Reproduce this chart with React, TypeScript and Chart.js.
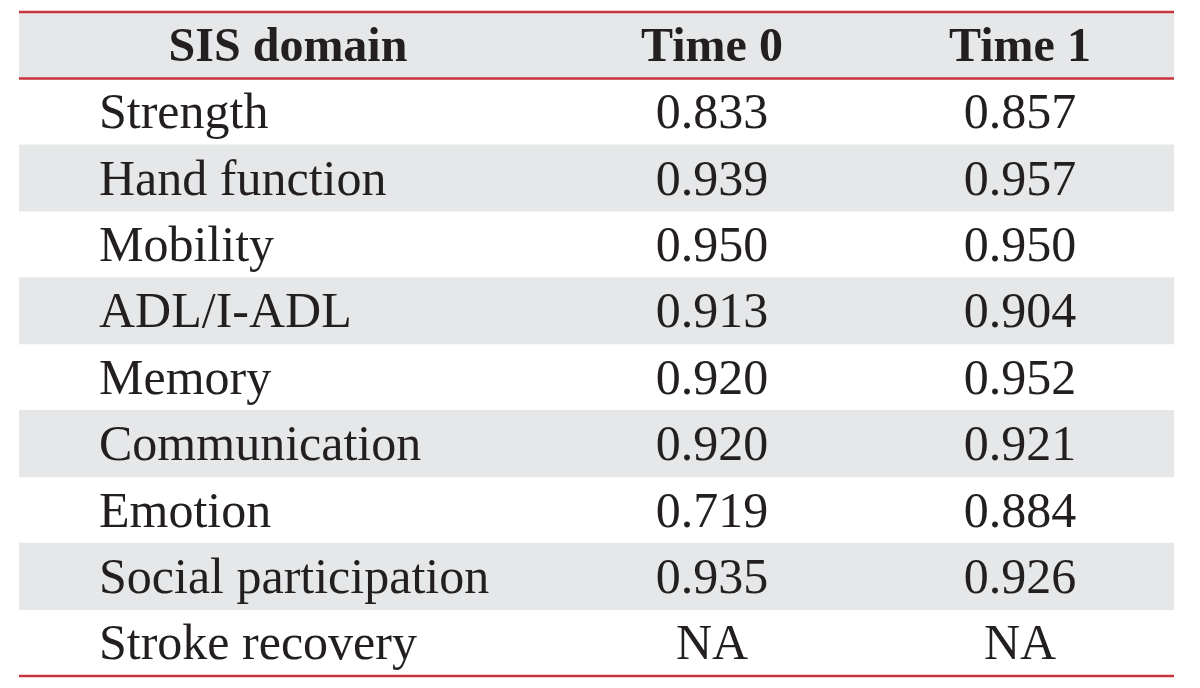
import React, { useEffect, useRef } from "react";
import { Chart, registerables } from "chart.js";

Chart.register(...registerables);

const headers = ["SIS domain", "Time 0", "Time 1"];
const domains = [
  "Strength",
  "Hand function",
  "Mobility",
  "ADL/I-ADL",
  "Memory",
  "Communication",
  "Emotion",
  "Social participation",
  "Stroke recovery",
];
const time0: (number | null)[] = [0.833, 0.939, 0.95, 0.913, 0.92, 0.92, 0.719, 0.935, null];
const time1: (number | null)[] = [0.857, 0.957, 0.95, 0.904, 0.952, 0.921, 0.884, 0.926, null];

const TABLE_LEFT = 19;
const TABLE_RIGHT = 1174;
const LABEL_X = 99;
const HEAD_LABEL_X = 288;
const COL_X = [712, 1020];
const RED = "#c8343c";
const GRAY = "#e6e7e8";
const INK = "#231f20";
const FONT = '"Liberation Serif", "Times New Roman", serif';
const HEAD_SIZE = 48;
const BODY_SIZE = 50;
const CAP = 0.331;

const fmt = (v: number | null) => (v === null ? "NA" : v.toFixed(3));

const tablePlugin = {
  id: "tableText",
  afterDatasetsDraw(chart: any) {
    const { ctx, scales, chartArea } = chart;
    const x = scales.x;
    const y = scales.y;
    const rowLabels: string[] = y.getLabels();
    const band = (chartArea.bottom - chartArea.top) / rowLabels.length;
    ctx.save();
    ctx.fillStyle = INK;
    ctx.textBaseline = "alphabetic";
    // header
    const hy = y.getPixelForValue(0) + HEAD_SIZE * CAP;
    ctx.font = `bold ${HEAD_SIZE}px ${FONT}`;
    ctx.textAlign = "center";
    ctx.fillText(headers[0], x.getPixelForValue(HEAD_LABEL_X), hy);
    ctx.fillText(headers[1], x.getPixelForValue(COL_X[0]), hy);
    ctx.fillText(headers[2], x.getPixelForValue(COL_X[1]), hy);
    // body
    ctx.font = `${BODY_SIZE}px ${FONT}`;
    domains.forEach((d, i) => {
      const py = y.getPixelForValue(i + 1) + BODY_SIZE * CAP;
      ctx.textAlign = "left";
      ctx.fillText(d, x.getPixelForValue(LABEL_X), py);
      ctx.textAlign = "center";
      ctx.fillText(fmt(time0[i]), x.getPixelForValue(COL_X[0]), py);
      ctx.fillText(fmt(time1[i]), x.getPixelForValue(COL_X[1]), py);
    });
    // red rules
    ctx.strokeStyle = RED;
    ctx.lineWidth = 2.5;
    const lines = [chartArea.top, chartArea.top + band, chartArea.bottom];
    lines.forEach((ly) => {
      ctx.beginPath();
      ctx.moveTo(chartArea.left, ly);
      ctx.lineTo(chartArea.right, ly);
      ctx.stroke();
    });
    ctx.restore();
  },
};

export default function App() {
  const ref = useRef<HTMLCanvasElement>(null);
  useEffect(() => {
    document.body.style.margin = "0";
    const rows = ["header", ...domains];
    const chart = new Chart(ref.current!, {
      type: "bar",
      data: {
        labels: rows,
        datasets: [
          {
            data: rows.map((_, i) => (i % 2 === 0 ? [TABLE_LEFT, TABLE_RIGHT] : null)) as any,
            backgroundColor: GRAY,
            borderWidth: 0,
            barPercentage: 1,
            categoryPercentage: 1,
          },
        ],
      },
      options: {
        indexAxis: "y",
        responsive: false,
        animation: false,
        events: [],
        layout: { padding: { left: TABLE_LEFT, right: 1200 - TABLE_RIGHT, top: 12, bottom: 12 } },
        plugins: { legend: { display: false }, tooltip: { enabled: false } },
        scales: {
          x: { type: "linear", min: TABLE_LEFT, max: TABLE_RIGHT, display: false },
          y: { type: "category", display: false, offset: true },
        },
      },
      plugins: [tablePlugin],
    });
    return () => chart.destroy();
  }, []);
  return (
    <div style={{ position: "absolute", left: 0, top: 0, width: 1200, height: 688, background: "#fff" }}>
      <canvas ref={ref} width={1200} height={688} />
    </div>
  );
}
